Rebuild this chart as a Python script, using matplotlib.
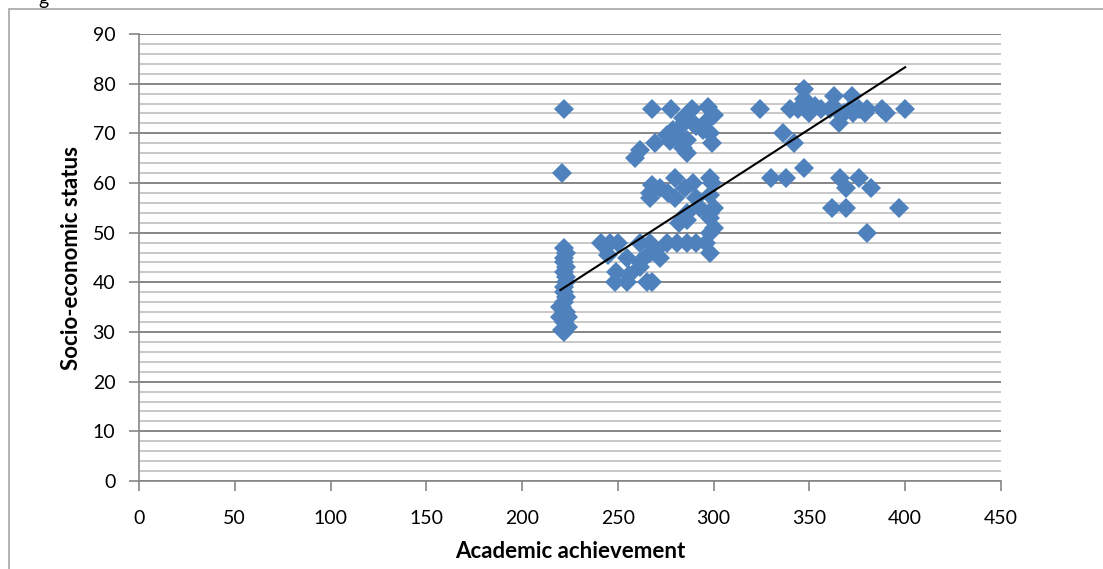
import numpy as np
import matplotlib.pyplot as plt
from matplotlib.patches import Rectangle

# Data
achievement = [
    # column near 222
    222, 221, 222, 223, 222, 223, 222, 223, 222, 223, 222, 221, 223, 220, 222, 223, 222, 220, 224,
    222, 223, 222, 224, 221,
    # 40-48 group
    241, 246, 250, 245, 249, 248.5, 255, 256, 255, 261.5, 261.5, 261.5, 267, 265, 267, 270, 272,
    275.5, 281, 286, 291, 296, 298, 268,
    # 50-61 group
    268, 267, 280, 289, 298, 299, 267, 280, 291, 298, 293, 298, 286, 282, 286, 298, 300, 298, 300,
    285, 272, 276,
    # 65-75 group
    267.6, 278, 288.5, 297, 300, 284, 289, 296, 275.5, 280.7, 286, 269.4, 299, 261.5, 259, 286, 284,
    279, 294.4, 282, 291, 298, 277,
    # right group
    324, 336, 342, 330, 338, 347, 366, 376, 369, 382, 362, 369, 397, 380, 365.5, 400, 388, 390,
    347, 347, 340, 344, 349, 356, 361, 364, 371, 376, 380, 350, 373, 379, 363, 372, 353, 368,
]
ses = [
    75, 62, 47, 46, 44, 43, 42, 40, 39, 37, 36, 35, 34, 33, 32, 31, 30, 35, 33,
    38, 41, 45, 31, 30.5,
    48, 48, 48, 45.5, 42, 40, 45, 41.5, 40, 48, 44, 43, 48, 40, 46, 46.5, 45,
    48, 48, 48, 48, 48, 46, 40,
    59.5, 58, 61, 60, 61, 60, 57, 57, 57, 57.5, 55, 54, 54, 52, 52.5, 53, 51, 50, 55,
    59, 59, 58,
    75, 75, 75, 75.4, 73.7, 73, 72, 72.3, 69.7, 69.3, 68.6, 68, 68, 66.6, 65, 66, 67,
    70.7, 70.7, 71, 71.5, 70, 68.5,
    75, 70, 68, 61, 61, 63, 61, 61, 59, 59, 55, 55, 55, 50, 72, 75, 75, 74,
    79, 77, 75, 75, 75, 75, 75, 75, 75, 75, 75, 74, 74, 74, 77.5, 77.5, 75.5, 74,
]

# Linear trendline
trend_slope = 0.2493
trend_intercept = -16.4

x_ticks = list(range(0, 451, 50))
y_ticks = list(range(0, 91, 10))

plt.rcParams['font.family'] = ['Lato', 'DejaVu Sans']

fig = plt.figure(figsize=(11.03, 5.69), dpi=100)
ax = fig.add_axes([0.126, 0.1547, 0.7815, 0.7855])

# outer frame of the chart object
fig.patches.append(Rectangle((9/1103, -0.1), 1.2, 1.1 - 9/569, transform=fig.transFigure,
                             fill=False, edgecolor='#a6a6a6', linewidth=1.2))
fig.text(0.035, 1.0, 'g', fontsize=14, va='center', ha='left')

ax.set_xlim(0, 450)
ax.set_ylim(0, 90)
ax.set_xticks(x_ticks)
ax.set_yticks(y_ticks)
ax.set_yticks(np.arange(0, 91, 2), minor=True)

ax.grid(axis='y', which='minor', color='#bfbfbf', linewidth=1.2)
ax.grid(axis='y', which='major', color='#868686', linewidth=1.4)
ax.set_axisbelow(True)

for side in ['top', 'right']:
    ax.spines[side].set_visible(False)
for side in ['left', 'bottom']:
    ax.spines[side].set_color('#868686')
    ax.spines[side].set_linewidth(1.2)

ax.tick_params(axis='both', which='major', direction='out', length=7, width=1.2,
               color='#868686', labelsize=14)
ax.tick_params(axis='x', which='major', pad=14)
ax.tick_params(axis='y', which='major', pad=10)
ax.tick_params(axis='y', which='minor', length=0)

ax.plot(achievement, ses, 'D', color='#4f81bd', markersize=10.5, markeredgewidth=0)

xl = np.array([min(achievement), max(achievement)])
ax.plot(xl, trend_slope*xl + trend_intercept, color='black', linewidth=1.5)

ax.set_xlabel('Academic achievement', fontsize=16, fontweight='bold', labelpad=10)
ax.set_ylabel('Socio-economic status', fontsize=16, fontweight='bold', labelpad=8)

plt.savefig('out.png', dpi=100)
